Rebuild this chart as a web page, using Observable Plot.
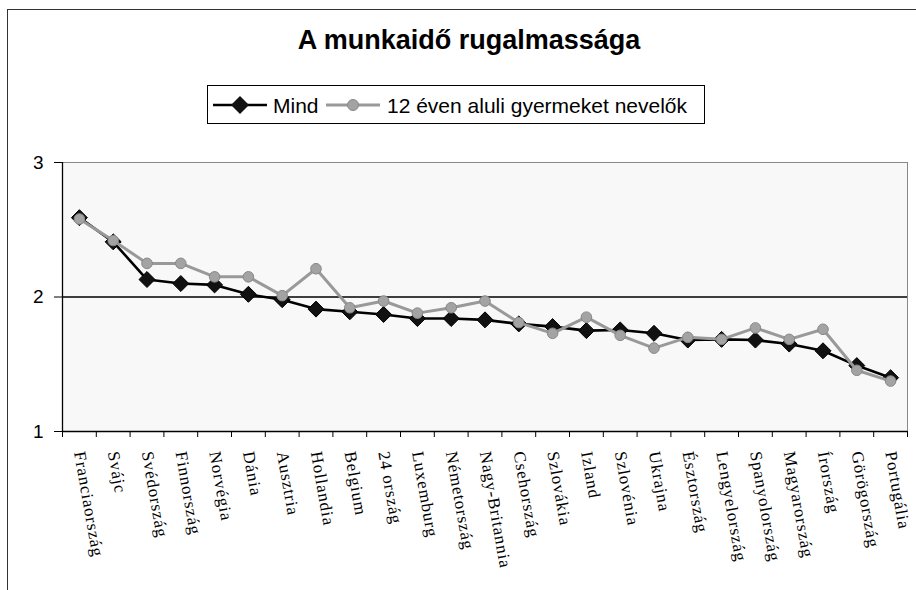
<!DOCTYPE html>
<html>
<head>
<meta charset="utf-8">
<script src="https://cdn.jsdelivr.net/npm/d3@7"></script>
<script src="https://cdn.jsdelivr.net/npm/@observablehq/plot@0.6"></script>
<style>
  html, body { margin: 0; padding: 0; background: #fff; overflow: hidden; }
  #wrap { position: relative; width: 916px; height: 590px; overflow: hidden; font-family: "Liberation Sans", Arial, sans-serif; }
  #frame { position: absolute; left: 7px; top: 9px; width: 960px; height: 640px; border: 1px solid #333; box-sizing: border-box; }
  #title { position: absolute; left: 0; top: 25px; width: 938px; text-align: center; font-weight: bold; font-size: 27px; line-height: 30px; color: #000; }
  #legend { position: absolute; left: 207px; top: 85px; width: 498px; height: 39px; }
  #chart { position: absolute; left: 0; top: 140px; }
  #chart g[aria-label="x-axis tick label"] text { letter-spacing: 0.9px; }
</style>
</head>
<body>
<div id="wrap">
  <div id="frame"></div>
  <div id="title">A munkaidő rugalmassága</div>
  <div id="legend"></div>
  <div id="chart"></div>
</div>
<script>
const categories = ["Franciaország", "Svájc", "Svédország", "Finnország", "Norvégia", "Dánia", "Ausztria", "Hollandia", "Belgium", "24 ország", "Luxemburg", "Németország", "Nagy-Britannia", "Csehország", "Szlovákia", "Izland", "Szlovénia", "Ukrajna", "Észtország", "Lengyelország", "Spanyolország", "Magyarország", "Írország", "Görögország", "Portugália"];
const mind = [2.59, 2.41, 2.13, 2.10, 2.09, 2.02, 1.98, 1.91, 1.89, 1.87, 1.84, 1.84, 1.83, 1.80, 1.78, 1.75, 1.755, 1.73, 1.68, 1.685, 1.68, 1.65, 1.60, 1.49, 1.40];
const gyermek = [2.58, 2.42, 2.25, 2.25, 2.15, 2.15, 2.01, 2.21, 1.92, 1.97, 1.88, 1.92, 1.97, 1.81, 1.73, 1.85, 1.715, 1.62, 1.70, 1.685, 1.77, 1.685, 1.76, 1.455, 1.375];
const seriesNames = ["Mind", "12 éven aluli gyermeket nevelők"];
const yTicks = [1, 2, 3];

const idx = d3.range(categories.length);
const bounds = d3.range(categories.length + 1).map(i => i - 0.5);

const chart = Plot.plot({
  width: 916,
  height: 450,
  marginTop: 22,
  marginBottom: 159,
  marginLeft: 62,
  marginRight: 9,
  style: { color: "#000", background: "transparent", overflow: "visible" },
  x: { type: "linear", domain: [-0.5, categories.length - 0.5] },
  y: { domain: [1, 3] },
  marks: [
    Plot.frame({ fill: "#f8f8f8", stroke: "#888", strokeWidth: 1 }),
    Plot.ruleY([2], { stroke: "#000", strokeWidth: 1.3 }),
    Plot.ruleY([1], { stroke: "#000", strokeWidth: 1.3 }),
    Plot.ruleX([-0.5], { stroke: "#000", strokeWidth: 1.3 }),
    Plot.axisY(yTicks, { tickSize: 8, tickPadding: 11, tickFormat: d => String(d), fontSize: 19, fontFamily: "Liberation Sans", label: null, stroke: "#000" }),
    Plot.axisX(bounds, { tickSize: 6, tickFormat: () => "", label: null }),
    Plot.axisX(idx, { tickSize: 0, tickPadding: 20, tickRotate: 80, tickFormat: i => categories[i], fontSize: 17, fontFamily: "Liberation Serif", label: null }),
    Plot.line(mind, { x: (d, i) => i, y: d => d, stroke: "#000", strokeWidth: 2.6 }),
    Plot.dot(mind, { x: (d, i) => i, y: d => d, symbol: "diamond2", r: 7.2, fill: "#111", stroke: "#000", strokeWidth: 1 }),
    Plot.line(gyermek, { x: (d, i) => i, y: d => d, stroke: "#999", strokeWidth: 3 }),
    Plot.dot(gyermek, { x: (d, i) => i, y: d => d, symbol: "circle", r: 5.3, fill: "#a3a3a3", stroke: "#888", strokeWidth: 1 })
  ]
});
document.getElementById("chart").appendChild(chart);

// legend
const lg = d3.select("#legend").append("svg").attr("width", 498).attr("height", 39);
lg.append("rect").attr("x", 0.5).attr("y", 0.5).attr("width", 497).attr("height", 38).attr("fill", "#fff").attr("stroke", "#000");
lg.append("line").attr("x1", 6).attr("x2", 60).attr("y1", 20).attr("y2", 20).attr("stroke", "#000").attr("stroke-width", 2.6);
lg.append("path").attr("d", "M33,11 L42,20 L33,29 L24,20 Z").attr("fill", "#111");
lg.append("text").attr("x", 66).attr("y", 27.5).attr("font-size", 21).attr("font-family", "Liberation Sans").text(seriesNames[0]);
lg.append("line").attr("x1", 119).attr("x2", 173).attr("y1", 20).attr("y2", 20).attr("stroke", "#999").attr("stroke-width", 3);
lg.append("circle").attr("cx", 146).attr("cy", 20).attr("r", 5.5).attr("fill", "#a3a3a3").attr("stroke", "#888");
lg.append("text").attr("x", 180).attr("y", 27.5).attr("font-size", 21).attr("font-family", "Liberation Sans").text(seriesNames[1]);
</script>
</body>
</html>
